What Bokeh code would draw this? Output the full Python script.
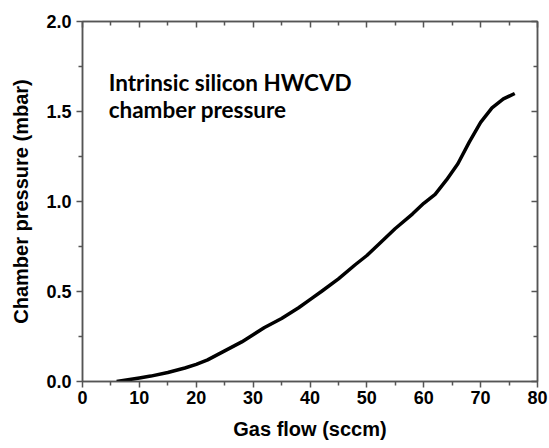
from bokeh.plotting import figure
from bokeh.models import LinearAxis, Label, FixedTicker, NumeralTickFormatter
from bokeh.embed import file_html
from bokeh.resources import INLINE

# Chamber pressure vs. gas flow for intrinsic silicon HWCVD
gas_flow = [6, 8, 10, 12, 15, 18, 20, 22, 25, 28, 30, 32, 35, 38, 40, 42,
            45, 48, 50, 52, 55, 58, 60, 62, 64, 66, 68, 70, 72, 74, 76]
pressure = [0.0, 0.01, 0.02, 0.03, 0.05, 0.075, 0.095, 0.12, 0.17, 0.22, 0.26,
            0.30, 0.35, 0.41, 0.455, 0.50, 0.57, 0.65, 0.70, 0.76, 0.85, 0.93,
            0.99, 1.04, 1.12, 1.21, 1.33, 1.44, 1.52, 1.57, 1.60]

x_ticks = [0, 10, 20, 30, 40, 50, 60, 70, 80]
y_ticks = [0.0, 0.5, 1.0, 1.5, 2.0]
x_minor = [5, 15, 25, 35, 45, 55, 65, 75]
y_minor = [0.25, 0.75, 1.25, 1.75]

AXIS_GREY = "#555555"
FONT = "Liberation Sans"

p = figure(width=549, height=448, x_range=(0, 80), y_range=(0, 2.0),
           output_backend="svg", toolbar_location=None,
           min_border_left=82, min_border_right=12,
           min_border_top=21, min_border_bottom=67)
p.grid.visible = False
p.outline_line_color = AXIS_GREY
p.outline_line_width = 1.5

p.line(gas_flow, pressure, line_color="black", line_width=3.5)

xt = FixedTicker(ticks=x_ticks, minor_ticks=x_minor)
yt = FixedTicker(ticks=y_ticks, minor_ticks=y_minor)

for ax, tk in ((p.xaxis[0], xt), (p.yaxis[0], yt)):
    ax.ticker = tk
    ax.axis_line_color = AXIS_GREY
    ax.axis_line_width = 1.5
    ax.major_tick_line_color = AXIS_GREY
    ax.minor_tick_line_color = AXIS_GREY
    ax.major_tick_line_width = 1.5
    ax.minor_tick_line_width = 1.5
    ax.major_tick_in = 0
    ax.major_tick_out = 6
    ax.minor_tick_in = 0
    ax.minor_tick_out = 4
    ax.major_label_text_font = FONT
    ax.major_label_text_font_style = "bold"
    ax.major_label_text_font_size = "18px"
    ax.major_label_text_color = "black"
    ax.axis_label_text_font = FONT
    ax.axis_label_text_font_style = "bold"
    ax.axis_label_text_font_size = "20px"
    ax.axis_label_text_color = "black"

p.xaxis[0].axis_label = "Gas flow (sccm)"
p.yaxis[0].axis_label = "Chamber pressure (mbar)"
p.xaxis[0].major_label_standoff = 3
p.xaxis[0].axis_label_standoff = 11
p.yaxis[0].major_label_standoff = 5
p.yaxis[0].axis_label_standoff = 11
p.yaxis[0].formatter = NumeralTickFormatter(format="0.0")

# mirrored axes: ticks only, pointing inward
for side, tk in (("above", xt), ("right", yt)):
    ax = LinearAxis(ticker=tk)
    ax.axis_line_color = AXIS_GREY
    ax.axis_line_width = 1.5
    ax.major_tick_line_color = AXIS_GREY
    ax.minor_tick_line_color = AXIS_GREY
    ax.major_tick_line_width = 1.5
    ax.minor_tick_line_width = 1.5
    ax.major_tick_in = 6
    ax.major_tick_out = 0
    ax.minor_tick_in = 4
    ax.minor_tick_out = 0
    ax.major_label_text_font_size = "0px"
    ax.major_label_text_color = None
    ax.major_label_standoff = 0
    p.add_layout(ax, side)

for txt, yy in (("Intrinsic silicon HWCVD", 1.661), ("chamber pressure", 1.511)):
    p.add_layout(Label(x=4.6, y=yy, text=txt, text_font="Lato",
                       text_font_style="bold", text_font_size="22.5px",
                       text_color="black", text_baseline="alphabetic"))

open("out.html", "w").write(file_html(p, INLINE))
